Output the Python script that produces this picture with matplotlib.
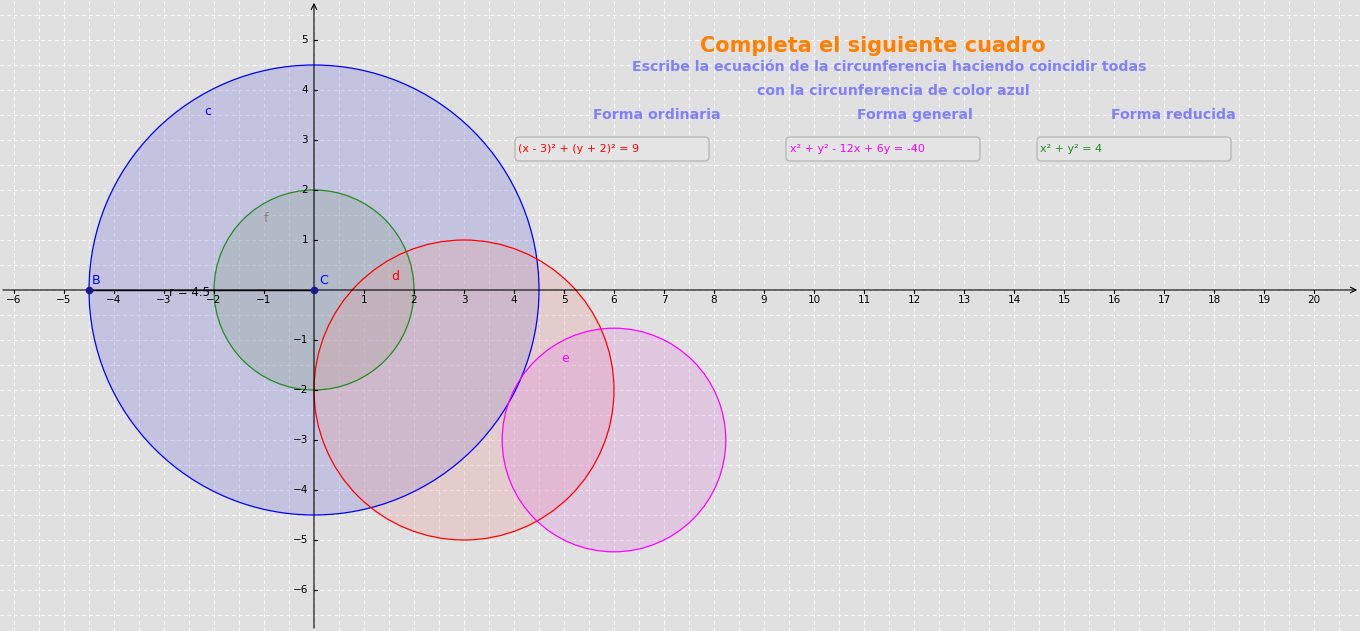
import matplotlib
matplotlib.use("Agg")
import matplotlib.pyplot as plt
from matplotlib.patches import Circle, FancyBboxPatch
import numpy as np

names = ["c", "f", "d", "e"]
centers_x = [0, 0, 3, 6]
centers_y = [0, 0, -2, -3]
radii = [4.5, 2, 3, np.sqrt(5)]
colors = ["#0000ff", "#228b22", "#ff0000", "#ff00ff"]
fills = ["#8080e0", "#90a890", "#e8a0a0", "#e090e0"]
label_x = [-2.2, -1.0, 1.55, 4.95]
label_y = [3.5, 1.35, 0.2, -1.45]
label_col = ["#0000ff", "#808080", "#ff0000", "#ff00ff"]
xticks = [v for v in range(-6, 21) if v != 0]
yticks = [v for v in range(-6, 6) if v != 0]

fig = plt.figure(figsize=(13.6, 6.31), dpi=100)
ax = fig.add_axes([0, 0, 1, 1])
fig.patch.set_facecolor("#e0e0e0")
ax.set_facecolor("#e0e0e0")
xmin, xmax = -6.28, 20.92
ymax = 5.8; ymin = ymax - 6.31 * 100 / 50
ax.set_xlim(xmin, xmax); ax.set_ylim(ymin, ymax)
ax.set_aspect("equal")
ax.axis("off")

for gx in np.arange(-6.5, 21, 0.5):
    ax.axvline(gx, color="white", lw=0.7, ls=(0, (4, 3)), alpha=0.85, zorder=0)
for gy in np.arange(-7, 6, 0.5):
    ax.axhline(gy, color="white", lw=0.7, ls=(0, (4, 3)), alpha=0.85, zorder=0)

ax.annotate("", xy=(xmax, 0), xytext=(xmin, 0),
            arrowprops=dict(arrowstyle="->", color="black", lw=0.8), zorder=3)
ax.annotate("", xy=(0, ymax), xytext=(0, ymin),
            arrowprops=dict(arrowstyle="->", color="black", lw=0.8), zorder=3)
for t in xticks:
    ax.plot([t, t], [0, -0.06], color="black", lw=0.8, zorder=3)
    ax.text(t, -0.2, str(t).replace("-", "\u2212"), ha="center", va="center", fontsize=7.5, zorder=3)
for t in yticks:
    ax.plot([0, 0.06], [t, t], color="black", lw=0.8, zorder=3)
    ax.text(-0.12, t, str(t).replace("-", "\u2212"), ha="right", va="center", fontsize=7.5, zorder=3)

for cx, cy, r, c, fc in zip(centers_x, centers_y, radii, colors, fills):
    ax.add_patch(Circle((cx, cy), r, facecolor=fc, alpha=0.3, edgecolor="none", zorder=1))
    ax.add_patch(Circle((cx, cy), r, facecolor="none", edgecolor=c, lw=0.9, zorder=2))
for n, lx, ly, lc in zip(names, label_x, label_y, label_col):
    ax.text(lx, ly, n, color=lc, fontsize=9, zorder=4)

ax.plot([-4.5, 0], [0, 0], color="black", lw=1, zorder=4)
ax.plot([-4.5, 0], [0, 0], "o", color="#1a1a8a", ms=4.5, zorder=5)
ax.text(-4.45, 0.12, "B", color="#0000ff", fontsize=9, zorder=5)
ax.text(0.1, 0.12, "C", color="#0000ff", fontsize=9, zorder=5)
ax.text(-2.9, -0.05, "r = 4.5", color="black", fontsize=8.5, va="center", zorder=5)

ax.text(873/1360, 1-46/631, "Completa el siguiente cuadro", transform=ax.transAxes,
        ha="center", va="center", color="#ff7f00", fontsize=15, fontweight="bold")
ax.text(889/1360, 1-67/631, "Escribe la ecuación de la circunferencia haciendo coincidir todas",
        transform=ax.transAxes, ha="center", va="center", color="#8080ff", fontsize=10.2, fontweight="bold")
ax.text(893/1360, 1-91/631, "con la circunferencia de color azul",
        transform=ax.transAxes, ha="center", va="center", color="#8080ff", fontsize=10.2, fontweight="bold")
heads = [("Forma ordinaria", 657), ("Forma general", 915), ("Forma reducida", 1173)]
for h, px in heads:
    ax.text(px/1360, 1-115/631, h, transform=ax.transAxes, ha="center", va="center",
            color="#8080ff", fontsize=10.2, fontweight="bold")
boxes = [("(x - 3)² + (y + 2)² = 9", 515, "#ff0000"),
         ("x² + y² - 12x + 6y = -40", 786, "#ff00ff"),
         ("x² + y² = 4", 1037, "#228b22")]
for txt, px, col in boxes:
    x0 = xmin + px / 50; y0 = ymax - 161 / 50
    ax.add_patch(FancyBboxPatch((x0, y0), 194/50, 24/50, boxstyle="round,pad=0,rounding_size=0.08",
                                facecolor="#e4e4e4", edgecolor="#b8b8b8", lw=1, zorder=6))
    ax.text(x0 + 0.07, y0 + 12/50, txt, color=col, fontsize=8, va="center", zorder=7)

fig.savefig("out.png", dpi=100, facecolor=fig.get_facecolor())
